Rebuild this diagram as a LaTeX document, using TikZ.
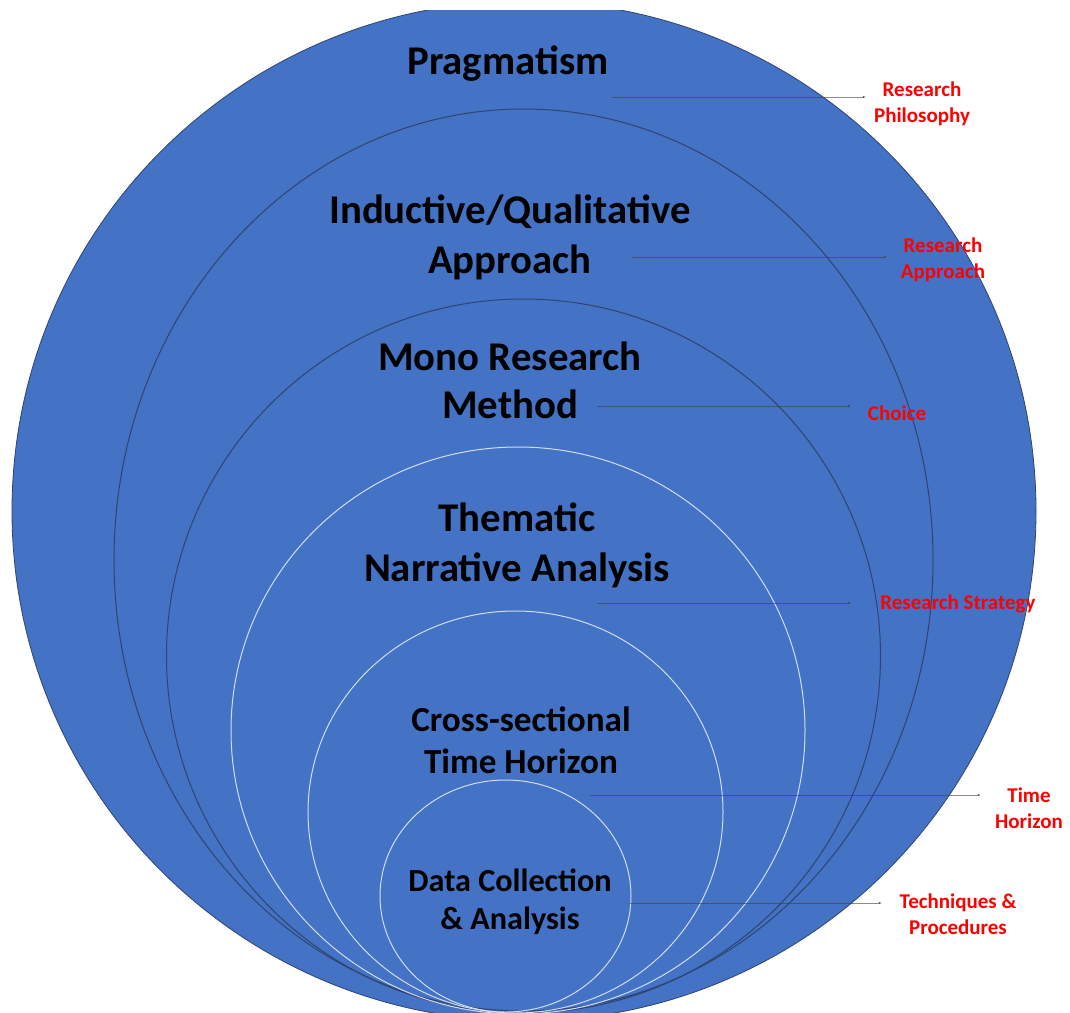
\documentclass[tikz,border=0pt]{standalone}
\usepackage{fontspec}
\setmainfont{Carlito}
\usetikzlibrary{arrows.meta, positioning}
\definecolor{onionblue}{HTML}{4472C4}
\definecolor{ringline}{HTML}{2F4470}
\definecolor{ringlight}{HTML}{D0DCF0}

\begin{document}
\begin{tikzpicture}[x=0.5pt, y=-0.5pt,
  layer/.style={font=\bfseries\fontsize{20.4}{25}\selectfont, align=center, text=black},
  tag/.style={font=\bfseries\fontsize{10.5}{13}\selectfont, align=center, text=red},
  link/.style={draw=black!75, draw opacity=0.6, line width=0.45pt, -{Latex[length=1.6pt, width=1.3pt]}}]
  \useasboundingbox (0,0) rectangle (1070,1012);
  \fill[white] (0,0) rectangle (1070,1012);

  % Nested rings, cut at the top like the original
  \begin{scope}
    \clip (0,10) rectangle (1070,1012);
    \draw[fill=onionblue, draw=ringline, line width=0.4pt] (524,511) ellipse [x radius=512, y radius=510];
    \draw[ringline, line width=0.5pt] (523.5,560) ellipse [x radius=409.5, y radius=451];
    \draw[ringline, line width=0.5pt] (523.5,656) circle (357);
    \foreach \cx/\cy/\rx/\ry in {518/730.5/287/283.5, 515.5/812/207.5/201, 505.5/896/125.5/116}
      \draw[ringlight, line width=0.5pt] (\cx,\cy) ellipse [x radius=\rx, y radius=\ry];
  \end{scope}

  % Layer names
  \node[layer] (prag) at (508,64) {Pragmatism};
  \node[layer] (induct) at (510,237) {Inductive/Qualitative\\Approach};
  \node[layer, font=\bfseries\fontsize{20.4}{24}\selectfont] (mono) at (510,380) {Mono Research\\Method};
  \node[layer] (thematic) at (517,545) {Thematic\\Narrative Analysis};
  \node[layer, font=\bfseries\fontsize{17.6}{21}\selectfont] (cross) at (521,740) {Cross-sectional\\Time Horizon};
  \node[layer, font=\bfseries\fontsize{16.1}{19}\selectfont] (data) at (510,902) {Data Collection\\\& Analysis};

  % Onion labels
  \node[tag] (philo) at (922,104) {Research\\Philosophy};
  \node[tag] (apprl) at (943,260) {Research\\Approach};
  \node[tag] (choice) at (897,413) {Choice};
  \node[tag] (strategy) at (958,604) {Research Strategy};
  \node[tag] (horizon) at (1029,808) {Time\\Horizon};
  \node[tag] (techn) at (958,914) {Techniques \&\\Procedures};

  % Pointers
  \coordinate (prag-s) at (612,97);     \coordinate (prag-e) at (866,97);
  \coordinate (induct-s) at (632,257);  \coordinate (induct-e) at (887,257);
  \coordinate (mono-s) at (597,406);    \coordinate (mono-e) at (851,406);
  \coordinate (thematic-s) at (597,603); \coordinate (thematic-e) at (851,603);
  \coordinate (cross-s) at (590,795);   \coordinate (cross-e) at (981,795);
  \coordinate (data-s) at (630,903);    \coordinate (data-e) at (882,903);
  \foreach \n in {prag, induct, mono, thematic, cross, data}
    \draw[link] (\n-s) -- (\n-e);
\end{tikzpicture}
\end{document}
